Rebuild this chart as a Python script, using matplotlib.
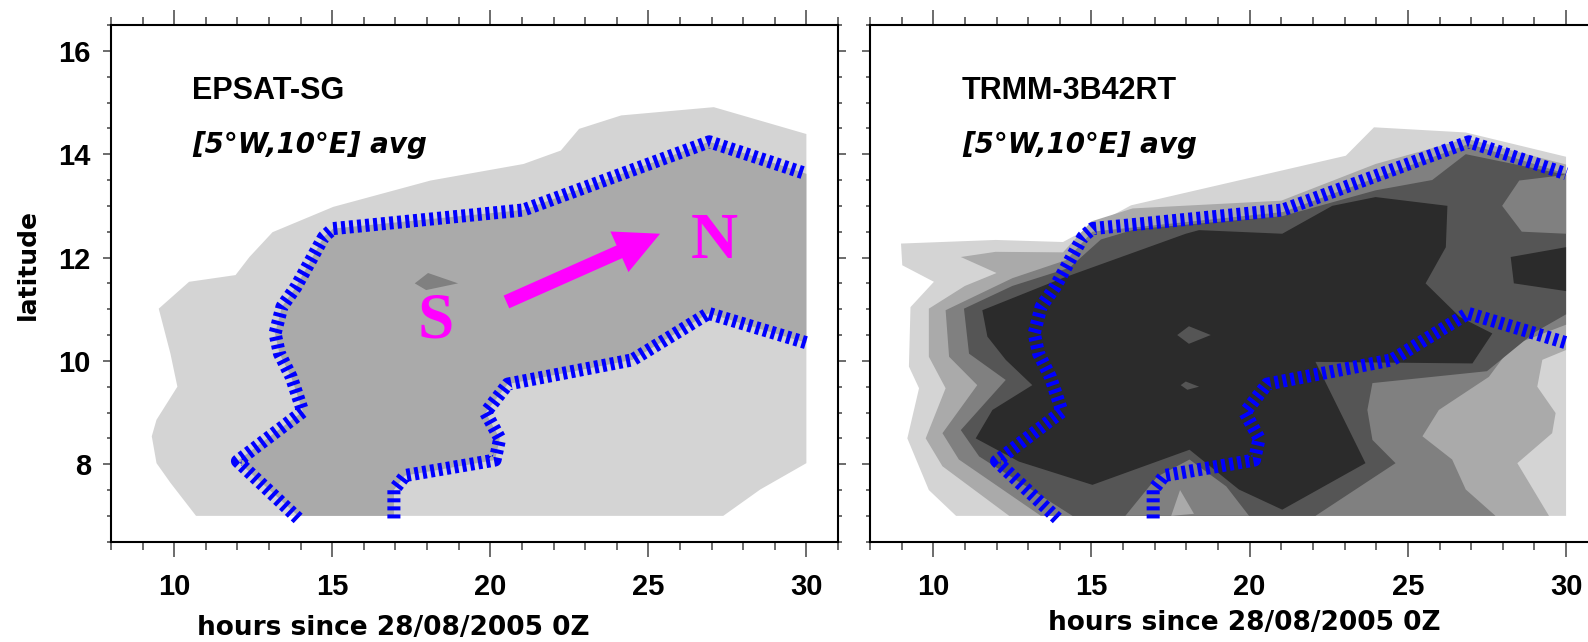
import matplotlib
matplotlib.use("Agg")
import matplotlib.pyplot as plt
from matplotlib.patches import FancyArrowPatch, ArrowStyle
from matplotlib.ticker import MultipleLocator, FixedLocator

plt.rcParams['lines.scale_dashes'] = False

# ---------------- data (hours since 28/08/2005 0Z, latitude) ----------------
x_ticks = [10, 15, 20, 25, 30]
y_ticks = [8, 10, 12, 14, 16]
shade_colors = ['#d4d4d4', '#aaaaaa', '#808080', '#555555', '#2b2b2b']

# EPSAT-SG contour regions
ep_l1_h = [30.0, 27.07, 24.14, 22.81, 22.23, 21.05, 18.11, 15.03, 13.11, 12.38, 11.94, 10.47,
           9.51, 9.88, 10.10, 9.44, 9.29, 9.44, 9.88, 10.69, 27.37, 28.54, 30.0]
ep_l1_y = [14.39, 14.91, 14.75, 14.49, 14.07, 13.81, 13.49, 12.98, 12.49, 12.01, 11.66, 11.53,
           11.01, 10.14, 9.50, 8.86, 8.54, 8.02, 7.64, 7.0, 7.0, 7.51, 8.02]
ep_l3_h = [17.61, 18.03, 18.98, 17.97]
ep_l3_y = [11.50, 11.70, 11.50, 11.37]

# blue contour lines (same in both panels)
blue_up_h = [13.92, 12.0, 14.07, 13.70, 13.33, 13.19, 13.41, 13.85, 14.44, 14.73, 15.03, 21.05, 26.93, 30.0]
blue_up_y = [6.95, 8.06, 9.02, 9.69, 10.14, 10.53, 11.05, 11.43, 12.08, 12.40, 12.56, 12.92, 14.24, 13.62]
blue_lo_h = [16.95, 16.95, 17.3, 20.15, 20.30, 19.85, 20.55, 24.50, 26.90, 30.0]
blue_lo_y = [6.95, 7.50, 7.78, 8.08, 8.50, 9.00, 9.55, 10.02, 10.92, 10.35]

# TRMM-3B42RT contour regions (each polygon = area at or above a shading level)
tr_l1_h = [8.98, 11.97, 14.1, 16.25, 23.04, 23.93, 26.83, 30.0, 30.0, 10.72, 9.86, 9.18, 9.55,
           9.23, 9.28, 10.02, 9.02]
tr_l1_y = [12.27, 12.34, 12.30, 13.01, 13.97, 14.52, 14.42, 13.95, 7.0, 7.0, 7.5, 8.5, 9.47,
           9.89, 11.04, 11.53, 11.85]

tr_l2_h = [10.87, 11.97, 14.1, 15.0, 16.3, 21.0, 23.98, 26.85, 30.0, 30.0, 29.25, 29.09, 29.67,
           29.56, 28.46, 29.46, 12.4, 10.29, 9.76, 10.39, 9.86, 9.86, 11.0, 12.0]
tr_l2_y = [12.01, 12.11, 12.10, 12.70, 12.95, 13.10, 13.81, 14.30, 13.80, 10.21, 10.02, 9.50, 8.99,
           8.60, 8.02, 7.0, 7.0, 7.96, 8.50, 9.47, 10.08, 11.01, 11.45, 11.70]

tr_l3_h = [10.39, 12.5, 14.2, 15.03, 21.05, 26.93, 30.0, 30.0, 28.3, 27.56, 25.98, 25.46, 26.4,
           26.83, 27.77, 13.4, 10.81, 10.29, 11.39, 10.5]
tr_l3_y = [10.98, 11.6, 11.95, 12.5, 12.88, 14.2, 13.62, 10.7, 10.3, 9.69, 9.05, 8.54, 8.09,
           7.51, 7.0, 7.0, 8.09, 8.6, 9.53, 10.08]

tr_l4_h = [10.97, 12.5, 14.3, 15.3, 16.4, 21.03, 23.98, 25.77, 26.83, 30.0, 30.0, 29.0, 27.5,
           23.88, 23.72, 23.88, 24.61, 22.08, 14.4, 11.45, 10.87, 12.29, 11.13]
tr_l4_y = [11.01, 11.45, 11.8, 12.35, 12.55, 12.8, 13.3, 13.5, 14.0, 13.6, 10.9, 10.55, 9.8,
           9.57, 9.05, 8.47, 8.02, 7.0, 7.0, 8.15, 8.66, 9.63, 10.14]

tr_l3b_h = [28.52, 30.0, 30.0, 28.6, 27.98]          # medium patch, upper right
tr_l3b_y = [13.49, 13.6, 12.46, 12.5, 13.0]
tr_l3c_h = [16.07, 17.08, 18.1, 19.26, 19.98]         # medium patch, bottom centre
tr_l3c_y = [7.0, 7.76, 8.09, 7.57, 7.0]
tr_l2b_h = [17.52, 17.8, 18.24]                       # light-medium wedge inside it
tr_l2b_y = [7.0, 7.5, 7.04]

tr_l5a_h = [11.55, 14.08, 17.98, 18.4, 21.03, 22.61, 23.98, 26.25, 26.2, 25.56, 26.64, 27.67,
            27.04, 22.08, 23.66, 21.03, 19.66, 18.1, 15.03, 12.71, 11.34, 11.87, 13.13, 12.29, 11.71]
tr_l5a_y = [10.98, 11.6, 12.46, 12.53, 12.46, 13.0, 13.17, 13.0, 12.2, 11.5, 10.85, 10.53,
            9.95, 9.98, 8.02, 7.12, 7.51, 8.28, 7.6, 8.05, 8.5, 9.05, 9.53, 10.02, 10.47]
tr_l5b_h = [28.25, 30.0, 30.0, 28.35]
tr_l5b_y = [12.01, 12.2, 11.35, 11.5]

tr_hole1_h = [17.71, 18.08, 18.77, 18.08]
tr_hole1_y = [10.5, 10.67, 10.5, 10.33]
tr_hole2_h = [17.82, 17.98, 18.4, 18.03]
tr_hole2_y = [9.53, 9.6, 9.5, 9.44]

# ---------------- figure ----------------
W, H = 1588, 642
fig = plt.figure(figsize=(W / 100, H / 100), dpi=100)
ax1 = fig.add_axes([111 / W, 1 - 541.7 / H, 727 / W, 516.7 / H])
ax2 = fig.add_axes([870 / W, 1 - 541.7 / H, 727.7 / W, 516.7 / H])

tick_font = dict(family='Liberation Sans', weight='bold', size=21)


def style_axis(ax, show_ylabels):
    ax.set_xlim(8, 31)
    ax.set_ylim(6.5, 16.5)
    ax.xaxis.set_major_locator(FixedLocator(x_ticks))
    ax.xaxis.set_minor_locator(MultipleLocator(1))
    ax.yaxis.set_major_locator(FixedLocator(y_ticks))
    ax.yaxis.set_minor_locator(MultipleLocator(0.5))
    ax.tick_params(axis='x', which='major', direction='out', length=10.8, width=1.1,
                   color='#444444', top=True, bottom=True, pad=12)
    ax.tick_params(axis='x', which='minor', direction='out', length=5.5, width=1.1,
                   color='#444444', top=True, bottom=True)
    ax.tick_params(axis='y', which='major', direction='out', length=5.5, width=1.1,
                   color='#444444', left=True, right=True, pad=9)
    ax.tick_params(axis='y', which='minor', direction='out', length=3.1, width=1.1,
                   color='#444444', left=True, right=True)
    ax.set_xticklabels([str(v) for v in x_ticks], fontdict=tick_font)
    if show_ylabels:
        ax.set_yticklabels([str(v) for v in y_ticks], fontdict=tick_font)
    else:
        ax.set_yticklabels([])
    for s in ax.spines.values():
        s.set_linewidth(1.5)
        s.set_color('black')


def draw_blue(ax):
    for hx, hy in [(blue_up_h, blue_up_y), (blue_lo_h, blue_lo_y)]:
        ax.plot(hx, hy, color='#0000ff', lw=9.4, dashes=(2.9, 2.9),
                solid_capstyle='butt', dash_capstyle='butt', zorder=5)


def shade(ax, hx, hy, level):
    ax.fill(hx, hy, color=shade_colors[level], lw=0)


# left panel
shade(ax1, ep_l1_h, ep_l1_y, 0)
ep_l2_h = blue_up_h + [30.0] + blue_lo_h[::-1] + [blue_up_h[0]]
ep_l2_y = ([max(v, 7.0) for v in blue_up_y] + [blue_up_y[-1]]
           + [max(v, 7.0) for v in blue_lo_y[::-1]] + [7.0])
ax1.fill(ep_l2_h, ep_l2_y, color=shade_colors[1], lw=0)
shade(ax1, ep_l3_h, ep_l3_y, 2)
draw_blue(ax1)
style_axis(ax1, True)

title_font = dict(family='Liberation Sans', weight='bold', size=22)
sub_font = dict(family='DejaVu Sans', weight='bold', style='italic', size=20)

ax1.text(10.57, 15.06, 'EPSAT-SG', **title_font)
ax1.text(10.57, 14.03, '[5°W,10°E] avg', **sub_font)
ax1.text(18.27, 10.45, 'S', family='Liberation Serif', weight='bold', size=47, color='#ff00ff',
         ha='center', va='baseline')
ax1.text(27.08, 11.99, 'N', family='Liberation Serif', weight='bold', size=47, color='#ff00ff',
         ha='center', va='baseline')
arrow = FancyArrowPatch((20.51, 11.14), (25.37, 12.46),
                        arrowstyle=ArrowStyle.Simple(head_length=32, head_width=32, tail_width=10),
                        mutation_scale=1, color='#ff00ff', lw=0, shrinkA=0, shrinkB=0, zorder=6)
ax1.add_patch(arrow)

# right panel
shade(ax2, tr_l1_h, tr_l1_y, 0)
shade(ax2, tr_l2_h, tr_l2_y, 1)
shade(ax2, tr_l3_h, tr_l3_y, 2)
shade(ax2, tr_l4_h, tr_l4_y, 3)
shade(ax2, tr_l3b_h, tr_l3b_y, 2)
shade(ax2, tr_l3c_h, tr_l3c_y, 2)
shade(ax2, tr_l2b_h, tr_l2b_y, 1)
shade(ax2, tr_l5a_h, tr_l5a_y, 4)
shade(ax2, tr_l5b_h, tr_l5b_y, 4)
shade(ax2, tr_hole1_h, tr_hole1_y, 3)
shade(ax2, tr_hole2_h, tr_hole2_y, 3)
draw_blue(ax2)
style_axis(ax2, False)

ax2.text(10.91, 15.06, 'TRMM-3B42RT', **title_font)
ax2.text(10.91, 14.03, '[5°W,10°E] avg', **sub_font)

# axis labels
fig.text(197 / W, 1 - 635 / H, 'hours since 28/08/2005 0Z', family='DejaVu Sans', weight='bold',
         size=19, ha='left', va='baseline')
fig.text(1048 / W, 1 - 630 / H, 'hours since 28/08/2005 0Z', family='DejaVu Sans', weight='bold',
         size=19, ha='left', va='baseline')
fig.text(28 / W, 1 - 265 / H, 'latitude', family='DejaVu Sans', weight='bold', size=18,
         rotation=90, ha='center', va='center')

fig.savefig('out.png', dpi=100)
